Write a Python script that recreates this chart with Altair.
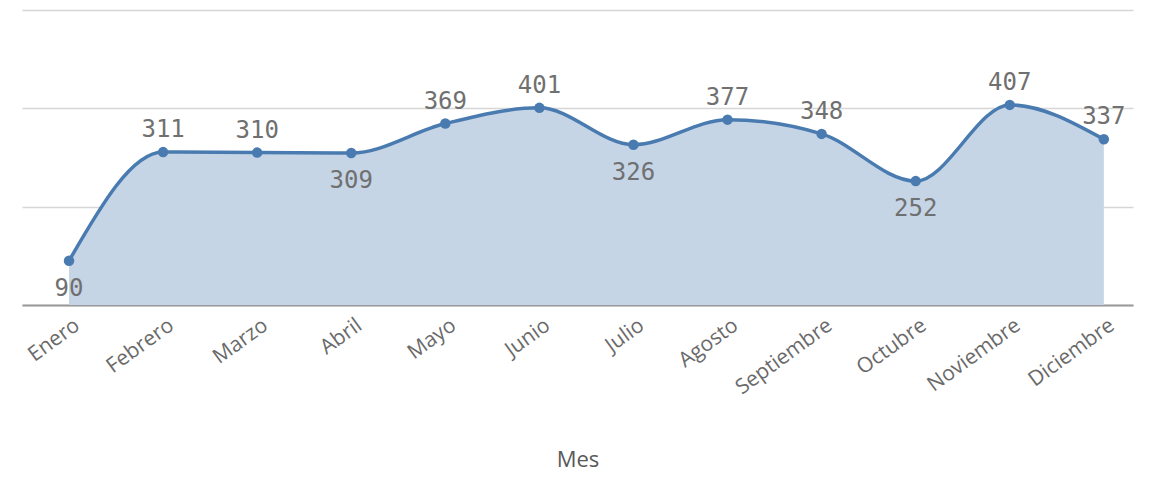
import altair as alt
import pandas as pd

months = ["Enero", "Febrero", "Marzo", "Abril", "Mayo", "Junio", "Julio",
          "Agosto", "Septiembre", "Octubre", "Noviembre", "Diciembre"]
values = [90, 311, 310, 309, 369, 401, 326, 377, 348, 252, 407, 337]
below_months = ["Enero", "Abril", "Julio", "Octubre"]

df = pd.DataFrame({"Mes": months, "Valor": values, "i": list(range(len(months)))})
df["lado"] = ["abajo" if m in below_months else "arriba" for m in months]

line_color = "#4a7bb0"
fill_color = "#c5d5e6"

months_js = "[" + ",".join("'" + m + "'" for m in months) + "]"

x = alt.X("i:Q", title="Mes",
          scale=alt.Scale(domain=[-0.5, 11.31], nice=False, zero=False),
          axis=alt.Axis(values=list(range(len(months))), labelExpr=months_js + "[datum.value]",
                        labelAngle=-36, labelAlign="right", labelBaseline="middle",
                        labelFlush=False, labelOverlap=False, labelBound=False,
                        labelFont="Open Sans", labelFontSize=21, labelColor="#6a6a6a",
                        labelPadding=18, labelOffset=8, ticks=False,
                        domainColor="#9a9a9a", domainWidth=2,
                        titleFont="Open Sans", titleFontSize=22, titleFontWeight="normal",
                        titleColor="#595959", titlePadding=52, grid=False))
y = alt.Y("Valor:Q", scale=alt.Scale(domain=[0, 600]),
          axis=alt.Axis(values=[0, 200, 400, 600], labels=False, ticks=False, domain=False,
                        title=None, gridColor="#d6d6d6", gridWidth=1.5))

base = alt.Chart(df).encode(x=x, y=y)

area = base.mark_area(interpolate="monotone", color=fill_color, opacity=1)
line = base.mark_line(interpolate="monotone", color=line_color, strokeWidth=3.5)
pts = base.mark_point(filled=True, color=line_color, size=110, opacity=1)

above = alt.Chart(df).transform_filter(alt.datum.lado == "arriba").mark_text(
    font="DejaVu Sans Mono", fontSize=24, color="#707070", dy=-22
).encode(x=x, y=y, text="Valor:Q")
below = alt.Chart(df).transform_filter(alt.datum.lado == "abajo").mark_text(
    font="DejaVu Sans Mono", fontSize=24, color="#707070", dy=28
).encode(x=x, y=y, text="Valor:Q")

chart = alt.layer(area, line, pts, above, below).properties(
    width=1111, height=295,
    autosize=alt.AutoSizeParams(type="none"),
    padding={"left": 14, "top": 2, "right": 10, "bottom": 172},
).configure_view(stroke=None)

chart.save("out.html", embed_options={"renderer": "svg", "actions": False})
